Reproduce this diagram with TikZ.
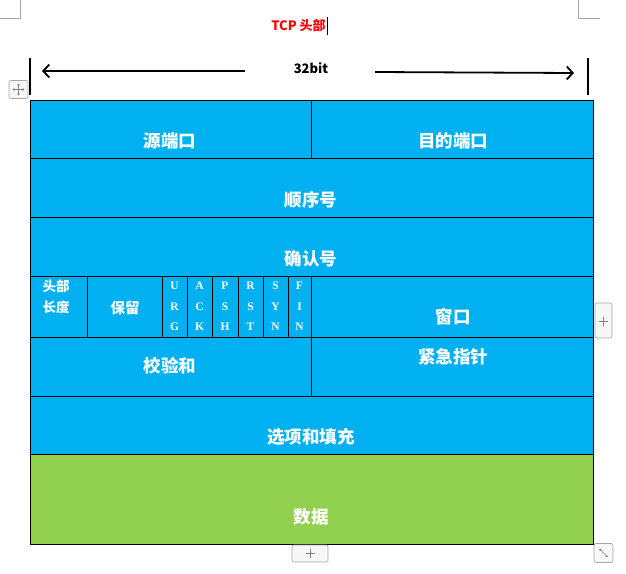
\documentclass[tikz,border=0pt]{standalone}
\usepackage{fontspec}
\setmainfont{Noto Sans CJK SC}
\newfontfamily\flagfont{Liberation Serif}
\usetikzlibrary{arrows.meta}
\definecolor{tcpblue}{HTML}{00B0F0}
\definecolor{tcpgreen}{HTML}{92D050}
\definecolor{uigray}{HTML}{A6A6A6}
\tikzset{
  cell/.style={draw=black, line width=0.8pt, fill=tcpblue, anchor=north west, inner sep=0pt, outer sep=0pt},
  lbl/.style={text=white, font=\fontsize{17.5}{19}\selectfont\bfseries, inner sep=0pt},
  smalllbl/.style={text=white, font=\fontsize{13.5}{21}\selectfont\bfseries, inner sep=0pt, align=center},
  flaglbl/.style={text=white, font=\flagfont\fontsize{11.5}{20.5}\selectfont\bfseries, inner sep=0pt, align=center},
  uibox/.style={draw=uigray, line width=0.6pt, rounded corners=2pt, fill=white!97!black},
  dimline/.style={line width=1.8pt, -{Straight Barb[length=6pt,width=13pt,line width=1.8pt]}},
}
\begin{document}
\begin{tikzpicture}[x=1pt,y=-1pt]
\useasboundingbox (0,0) rectangle (626,573);
% UI corner marks
\draw[uigray, line width=0.6pt] (20,0) -- (20,18) -- (0,18);
\draw[uigray, line width=0.6pt] (578,0) -- (578,18) -- (600,18);
% title
\node[text=red, font=\fontsize{13}{14}\selectfont\bfseries, inner sep=0pt] (title) at (298.5,26) {TCP 头部};
\draw[black, line width=1pt] (327,17) -- (327,35);
% dimension
\draw[black, line width=1.5pt] (30,58) -- (30,95);
\draw[black, line width=1.5pt] (588,58) -- (588,95);
\node[font=\fontsize{13}{14}\selectfont\bfseries, inner sep=0pt] (bits) at (311,68) {32bit};
\coordinate (la) at (245,71);
\coordinate (lt) at (42,71);
\coordinate (ra) at (375,72);
\coordinate (rt) at (574,73);
\draw[dimline] (la) -- (lt);
\draw[dimline] (ra) -- (rt);
% move handle
\node[uibox, minimum width=19pt, minimum height=18pt, inner sep=0pt] (move) at (18.5,89.5) {};
\draw[uigray!80!black, line width=0.5pt, -{Stealth[length=2pt,width=3pt]}] (move.center) -- ++(6,0);
\draw[uigray!80!black, line width=0.5pt, -{Stealth[length=2pt,width=3pt]}] (move.center) -- ++(-6,0);
\draw[uigray!80!black, line width=0.5pt, -{Stealth[length=2pt,width=3pt]}] (move.center) -- ++(0,6);
\draw[uigray!80!black, line width=0.5pt, -{Stealth[length=2pt,width=3pt]}] (move.center) -- ++(0,-6);
% table cells
\node[cell, minimum width=281pt, minimum height=58pt] (srcc) at (30,100) {};
\node[cell, minimum width=282pt, minimum height=58pt] (dstc) at (311,100) {};
\node[cell, minimum width=563pt, minimum height=59pt] (seqc) at (30,158) {};
\node[cell, minimum width=563pt, minimum height=59pt] (ackc) at (30,217) {};
\node[cell, minimum width=57pt, minimum height=61pt] (hlenc) at (30,276) {};
\node[cell, minimum width=75pt, minimum height=61pt] (rsvc) at (87,276) {};
\node[cell, minimum width=25pt, minimum height=61pt] (urgc) at (162,276) {};
\node[cell, minimum width=25pt, minimum height=61pt] (ackfc) at (187,276) {};
\node[cell, minimum width=26pt, minimum height=61pt] (pshc) at (212,276) {};
\node[cell, minimum width=25pt, minimum height=61pt] (rstc) at (238,276) {};
\node[cell, minimum width=25pt, minimum height=61pt] (sync) at (263,276) {};
\node[cell, minimum width=23pt, minimum height=61pt] (finc) at (288,276) {};
\node[cell, minimum width=282pt, minimum height=61pt] (winc) at (311,276) {};
\node[cell, minimum width=281pt, minimum height=59pt] (chkc) at (30,337) {};
\node[cell, minimum width=282pt, minimum height=59pt] (urgpc) at (311,337) {};
\node[cell, minimum width=563pt, minimum height=58pt] (optc) at (30,396) {};
\node[cell, fill=tcpgreen, minimum width=563pt, minimum height=90pt] (datac) at (30,454) {};
% labels
\node[lbl] (src) at (170,141) {源端口};
\node[lbl] (dst) at (453,141) {目的端口};
\node[lbl] (seq) at (311,200) {顺序号};
\node[lbl] (ack) at (311,259) {确认号};
\node[smalllbl] (hlen) at (56,297) {头部\\长度};
\node[lbl, font=\fontsize{14.5}{16}\selectfont\bfseries] (rsv) at (125,308) {保留};
\node[flaglbl] (urg) at (urgc.center) {U\\R\\G};
\node[flaglbl] (ackf) at (ackfc.center) {A\\C\\K};
\node[flaglbl] (psh) at (pshc.center) {P\\S\\H};
\node[flaglbl] (rst) at (rstc.center) {R\\S\\T};
\node[flaglbl] (syn) at (sync.center) {S\\Y\\N};
\node[flaglbl] (fin) at (finc.center) {F\\I\\N};
\node[lbl] (win) at (453,317) {窗口};
\node[lbl] (chk) at (170,366) {校验和};
\node[lbl] (urgp) at (453,357) {紧急指针};
\node[lbl] (opt) at (311,437) {选项和填充};
\node[lbl] (data) at (311,517) {数据};
% UI buttons
\node[uibox, minimum width=17pt, minimum height=35pt, inner sep=0pt] (plusr) at (603.5,320.5) {};
\draw[gray, line width=0.6pt] (599,321) -- (608,321) (603.5,316.5) -- (603.5,325.5);
\node[uibox, minimum width=36pt, minimum height=17pt, inner sep=0pt] (plusb) at (310,553.5) {};
\draw[gray, line width=0.6pt] (305.5,553) -- (314.5,553) (310,548.5) -- (310,557.5);
\node[uibox, minimum width=19pt, minimum height=19pt, inner sep=0pt] (resize) at (603.5,553) {};
\draw[gray, line width=0.5pt, -{Stealth[length=2pt,width=3pt]}] (resize.center) -- ++(-4,-4);
\draw[gray, line width=0.5pt, -{Stealth[length=2pt,width=3pt]}] (resize.center) -- ++(4,4);
\end{tikzpicture}
\end{document}
